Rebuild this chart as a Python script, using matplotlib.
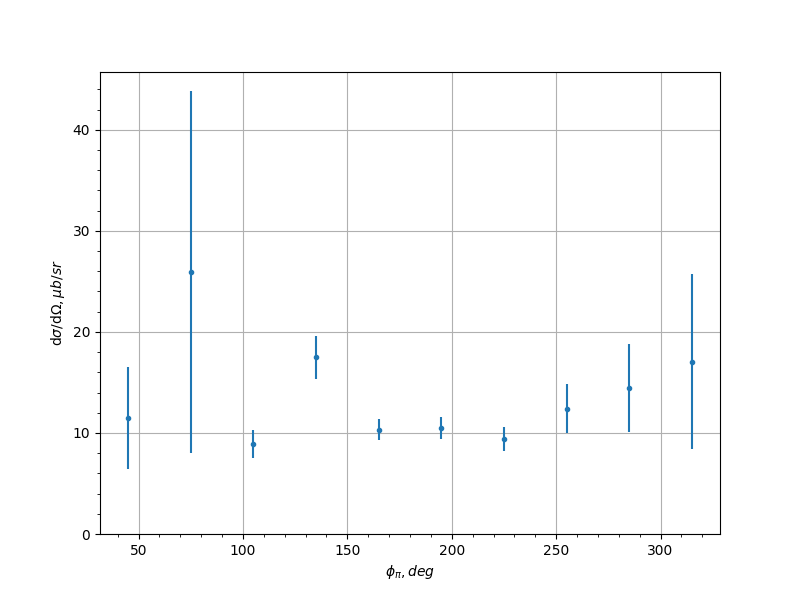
import numpy as np
import matplotlib
matplotlib.use("Agg")
import matplotlib.pyplot as plt

# azimuthal angle bins and measured cross-section
phi = [45, 75, 105, 135, 165, 195, 225, 255, 285, 315]
xsec = [11.5, 25.95, 8.9, 17.5, 10.3, 10.5, 9.4, 12.4, 14.45, 17.03]
xsec_err = [5.05, 17.9, 1.42, 2.12, 1.04, 1.07, 1.23, 2.44, 4.38, 8.66]

fig, ax = plt.subplots(figsize=(8, 6), dpi=100)
ax.errorbar(phi, xsec, yerr=xsec_err, fmt=".")
ax.set_ylim(bottom=0)
ax.minorticks_on()
ax.grid(True, which="major")
ax.set_xlabel(r"$\phi_{\pi}, deg$")
ax.set_ylabel(r"d$\sigma$/d$\Omega, \mu b/sr$")

fig.savefig("out.png")
